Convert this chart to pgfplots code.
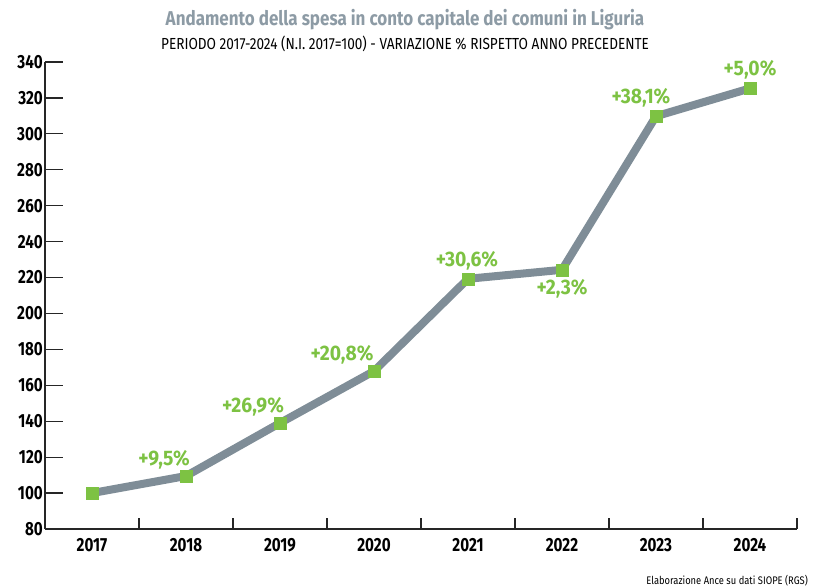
\documentclass[border=0pt]{standalone}
\usepackage{pgfplots}
\pgfplotsset{compat=1.18}
\usepackage{fontspec}
\setmainfont{Fira Sans}
\newfontfamily\cond[FakeStretch=0.8]{Fira Sans}
\newfontfamily\condt[FakeStretch=0.85]{Fira Sans}
\newfontfamily\condlab[FakeStretch=0.92]{Fira Sans}
\definecolor{linegray}{HTML}{7F8D97}
\definecolor{titlegray}{HTML}{8D9BA5}
\definecolor{lgreen}{HTML}{7DC243}
\begin{document}
\begin{tikzpicture}
\path[use as bounding box] (-45pt,-59pt) rectangle (773pt,529pt);
\begin{axis}[
  at={(0,0)}, anchor=south west,
  scale only axis, width=752pt, height=467pt,
  xmin=-0.5, xmax=7.5, ymin=80, ymax=340,
  axis x line=bottom, axis y line=left,
  axis line style={-, line width=1.3pt, black!85},
  every tick/.style={line width=1.3pt, black!85},
  tick align=inside,
  ytick={80,100,...,340},
  y tick label style={font=\cond\bfseries\fontsize{19}{19}\selectfont, inner sep=2pt},
  xtick={0,...,7},
  xticklabels={2017,2018,2019,2020,2021,2022,2023,2024},
  x tick label style={font=\cond\bfseries\fontsize{19}{19}\selectfont, yshift=-6pt},
  major tick length=18pt,
  xtick style={draw=none},
  extra x ticks={0.5,1.5,2.5,3.5,4.5,5.5,6.5,7.5},
  extra x tick labels={},
  extra x tick style={xtick style={draw=black!85, line width=1.3pt}, major tick length=11pt},
  /pgf/number format/assume math mode=true,
  clip=false,
]
\addplot[linegray, line width=8pt, mark=square*, mark size=6pt,
  mark options={solid, line width=0.1pt, draw=lgreen, fill=lgreen}]
  coordinates {(0,100) (1,109.5) (2,139.0) (3,167.9) (4,219.3) (5,224.3) (6,309.8) (7,325.3)};
\tikzset{lab/.style={text=lgreen, font=\condlab\bfseries\fontsize{21}{21}\selectfont, inner sep=0pt}}
\node[lab, xshift=-22pt, yshift=16pt] at (axis cs:1,109.5) {+9,5\%};
\node[lab, xshift=-27pt, yshift=16pt] at (axis cs:2,139.0) {+26,9\%};
\node[lab, xshift=-32pt, yshift=16pt] at (axis cs:3,167.9) {+20,8\%};
\node[lab, xshift=-1pt, yshift=18pt] at (axis cs:4,219.3) {+30,6\%};
\node[lab, xshift=0pt, yshift=-19pt] at (axis cs:5,224.3) {+2,3\%};
\node[lab, xshift=-15pt, yshift=18pt] at (axis cs:6,309.8) {+38,1\%};
\node[lab, xshift=0pt, yshift=19pt] at (axis cs:7,325.3) {+5,0\%};
\end{axis}
\node[text=titlegray, font=\condt\bfseries\fontsize{20}{20}\selectfont, inner sep=0pt] at (360pt,509pt) {Andamento della spesa in conto capitale dei comuni in Liguria};
\node[text=black, font=\condt\fontsize{16}{16}\selectfont, inner sep=0pt] at (360pt,485pt) {PERIODO 2017-2024 (N.I. 2017=100) - VARIAZIONE \% RISPETTO ANNO PRECEDENTE};
\node[text=black, font=\condt\fontsize{11}{11}\selectfont, inner sep=0pt, anchor=east] at (763pt,-52pt) {Elaborazione Ance su dati SIOPE (RGS)};
\end{tikzpicture}
\end{document}
